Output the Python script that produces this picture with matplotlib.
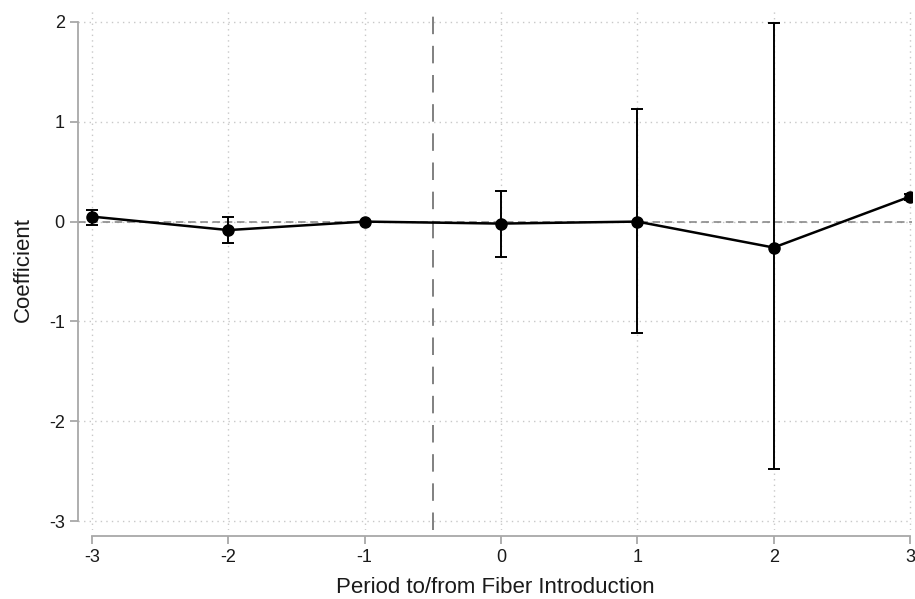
import numpy as np
import matplotlib
matplotlib.use('Agg')
from matplotlib import pyplot as plt

plt.rcParams['font.family'] = ['Liberation Sans', 'DejaVu Sans']

periods = [-3, -2, -1, 0, 1, 2, 3]
coef = [0.05, -0.085, 0.0, -0.02, 0.0, -0.26, 0.25]
ci_low = [-0.035, -0.21, 0.0, -0.355, -1.12, -2.48, 0.22]
ci_high = [0.12, 0.05, 0.0, 0.31, 1.13, 1.99, 0.28]
xticks = [-3, -2, -1, 0, 1, 2, 3]
yticks = [-3, -2, -1, 0, 1, 2]

W, H = 915, 599
fig = plt.figure(figsize=(W / 100, H / 100), dpi=100)
# axes box in pixels: left 78, right 912, top 9, bottom 530
ax = fig.add_axes([78 / W, 1 - 530 / H, (912 - 78) / W, (530 - 9) / H])

ax.set_xlim(-3.103, 3.015)
ax.set_ylim(-3.09, 2.13)

gridc = '#c8c8c8'
ax.set_xticks(xticks)
ax.set_yticks(yticks)
ax.grid(True, color=gridc, linestyle=(0, (1, 3)), linewidth=1)
ax.set_axisbelow(True)

ax.axhline(0, color='#808080', linestyle=(0, (5, 3)), linewidth=1.1, zorder=1)
ax.axvline(-0.5, color='#808080', linestyle=(0, (9, 6)), linewidth=1.4, zorder=1)

c = np.array(coef)
yerr = [c - np.array(ci_low), np.array(ci_high) - c]
ax.errorbar(periods, coef, yerr=yerr, fmt='-o', color='black', ecolor='black',
            linewidth=1.8, elinewidth=1.4, capsize=4, capthick=1.4,
            markersize=8, zorder=3)

for s in ['top', 'right']:
    ax.spines[s].set_visible(False)
ax.spines['left'].set_bounds(-3, 2)
ax.spines['bottom'].set_bounds(-3, 3)
ax.spines['bottom'].set_position(('outward', 4))
for s in ['left', 'bottom']:
    ax.spines[s].set_color('#a8a8a8')
    ax.spines[s].set_linewidth(1.3)
ax.tick_params(axis='both', colors='#a8a8a8', labelcolor='#1a1a1a', length=6,
               width=1.3, labelsize=13)
ax.set_yticklabels([str(v) for v in yticks])
ax.set_xticklabels([str(v) for v in xticks])

ax.set_ylabel('Coefficient', fontsize=16, color='#1a1a1a', labelpad=11)
ax.set_xlabel('Period to/from Fiber Introduction', fontsize=16, color='#1a1a1a', labelpad=8)

fig.savefig('out.png', dpi=100)
